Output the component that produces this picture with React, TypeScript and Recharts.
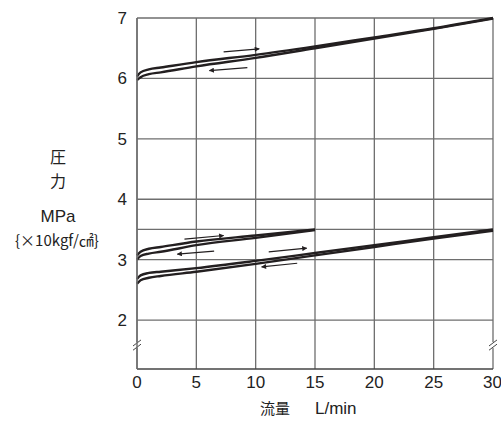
import { LineChart, Line, XAxis, YAxis, CartesianGrid, ReferenceLine } from 'recharts';

// flow L/min
const flow = [0, 0.3, 1, 2, 5, 10, 15, 20, 25, 30];
// 6 MPa set
const highInc = [6.03, 6.1, 6.15, 6.18, 6.27, 6.39, 6.53, 6.68, 6.83, 7.0];
const highDec = [5.97, 6.02, 6.07, 6.1, 6.2, 6.34, 6.5, 6.66, 6.82, 6.99];
// 3 MPa set (to 15 L/min)
const midInc = [3.07, 3.13, 3.18, 3.21, 3.3, 3.4, 3.5];
const midDec = [3.0, 3.06, 3.1, 3.13, 3.24, 3.36, 3.49];
// 2.7 MPa set
const lowInc = [2.68, 2.74, 2.78, 2.8, 2.86, 2.98, 3.11, 3.24, 3.37, 3.5];
const lowDec = [2.6, 2.66, 2.7, 2.73, 2.8, 2.93, 3.07, 3.21, 3.35, 3.48];

const xTicks = [0, 5, 10, 15, 20, 25, 30];
const yTicks = [2, 3, 3.5, 4, 5, 6, 7];

// arrows: [x1, y1, x2, y2]
const arrows = [
  [7.3, 6.44, 10.3, 6.49],
  [9.3, 6.18, 6.1, 6.13],
  [4.0, 3.34, 7.3, 3.4],
  [6.5, 3.14, 3.4, 3.09],
  [11.1, 3.13, 14.3, 3.19],
  [13.5, 2.94, 10.5, 2.88],
];

const toPts = (ys: number[]) => ys.map((y, i) => ({ x: flow[i], y }));

const ink = '#231f20';
const sans = 'Liberation Sans, Arial, sans-serif';
const cjk = '"Noto Sans CJK JP", sans-serif';

export default function App() {
  const series = [highInc, highDec, midInc, midDec, lowInc, lowDec];
  const breakY = 1.586;
  const bx = 0.337;
  const by = 0.05;
  const off = 0.035;

  return (
    <div style={{ position: 'absolute', left: 0, top: 0, width: 501, height: 421, background: '#fff', overflow: 'hidden' }}>
      <svg width="0" height="0" style={{ position: 'absolute' }}>
        <defs>
          <marker id="arr" viewBox="0 0 10 10" refX="9" refY="5" markerWidth="10" markerHeight="5" orient="auto" markerUnits="userSpaceOnUse">
            <path d="M0,0 L10,5 L0,10 z" fill={ink} />
          </marker>
        </defs>
      </svg>
      <LineChart width={501} height={421} margin={{ top: 18, right: 8, left: 0, bottom: 22 }}>
        <CartesianGrid stroke="#6e6e6e" strokeWidth={1.3} verticalValues={xTicks} horizontalValues={yTicks} />
        <XAxis
          type="number"
          dataKey="x"
          domain={[0, 30]}
          ticks={xTicks}
          height={30}
          tickSize={0}
          tickMargin={7}
          stroke="#444"
          strokeWidth={1.5}
          tick={{ fill: '#222', fontSize: 17, fontFamily: sans }}
        />
        <YAxis
          type="number"
          dataKey="y"
          domain={[1.19, 7]}
          ticks={yTicks}
          width={137}
          tickSize={0}
          tickMargin={10}
          stroke="#6e6e6e"
          strokeWidth={1.5}
          tickFormatter={(v: number) => (v === 3.5 ? '' : String(v))}
          tick={{ fill: '#222', fontSize: 17, fontFamily: sans }}
        />
        {series.map((s, i) => (
          <Line
            key={i}
            data={toPts(s)}
            dataKey="y"
            type="monotone"
            stroke={ink}
            strokeWidth={2.4}
            dot={false}
            isAnimationActive={false}
          />
        ))}
        {arrows.map((a, i) => (
          <ReferenceLine
            key={'a' + i}
            segment={[{ x: a[0], y: a[1] }, { x: a[2], y: a[3] }]}
            stroke={ink}
            strokeWidth={1.2}
            markerEnd="url(#arr)"
          />
        ))}
        {[0, 30].map((xv) => (
          <ReferenceLine
            key={'w' + xv}
            segment={[{ x: xv, y: breakY - 0.05 }, { x: xv, y: breakY + 0.05 }]}
            stroke="#fff"
            strokeWidth={4}
            ifOverflow="visible"
          />
        ))}
        {[0, 30].flatMap((xv) =>
          [-off, off].map((o) => (
            <ReferenceLine
              key={'b' + xv + o}
              segment={[{ x: xv - bx, y: breakY + o - by }, { x: xv + bx, y: breakY + o + by }]}
              stroke="#444"
              strokeWidth={1}
              ifOverflow="visible"
            />
          ))
        )}
      </LineChart>
      <div style={{ position: 'absolute', left: 0, top: 148, width: 116, textAlign: 'center', fontFamily: cjk, fontSize: 16, lineHeight: '16px', color: '#222' }}>
        圧
      </div>
      <div style={{ position: 'absolute', left: 0, top: 172, width: 116, textAlign: 'center', fontFamily: cjk, fontSize: 16, lineHeight: '16px', color: '#222' }}>
        力
      </div>
      <div style={{ position: 'absolute', left: 0, top: 206, width: 116, textAlign: 'center', fontFamily: sans, fontSize: 17, lineHeight: '22px', color: '#222' }}>
        MPa
      </div>
      <div style={{ position: 'absolute', left: 4, top: 230, width: 106, textAlign: 'center', fontFamily: cjk, fontSize: 15, lineHeight: '20px', color: '#222', whiteSpace: 'nowrap' }}>
        {'{×10kgf/㎠}'}
      </div>
      <div style={{ position: 'absolute', left: 260, top: 400, fontFamily: cjk, fontSize: 15, lineHeight: '15px', color: '#222', whiteSpace: 'nowrap' }}>
        流量
      </div>
      <div style={{ position: 'absolute', left: 315, top: 400, fontFamily: sans, fontSize: 17, lineHeight: '17px', color: '#222', whiteSpace: 'nowrap' }}>
        L/min
      </div>
    </div>
  );
}
